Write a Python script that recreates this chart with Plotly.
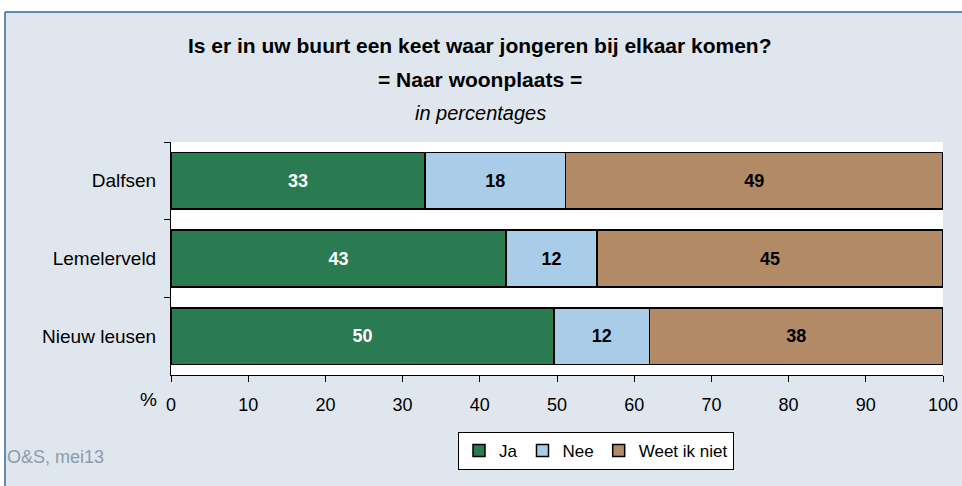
import plotly.graph_objects as go

# data (percentages per woonplaats)
PLACES = ["Dalfsen", "Lemelerveld", "Nieuw leusen"]
JA = [32.9, 43.4, 49.6]
NEE = [18.2, 11.8, 12.4]
WEET_NIET = [48.9, 44.8, 38.0]
X_TICKS = [0, 10, 20, 30, 40, 50, 60, 70, 80, 90, 100]

FONT = "Liberation Sans"
BG = "#dfe6ee"
FRAME = "#2f6a9c"
W, H = 962, 486
L, R, T, B = 171, 19, 142, 111


def px_x(p):
    return (p - L) / (W - L - R)


def px_y(p):
    return (H - B - p) / (H - T - B)


series = [
    ("Ja", JA, "#2a7b52", "white"),
    ("Nee", NEE, "#a9cde8", "black"),
    ("Weet ik niet", WEET_NIET, "#b38a66", "black"),
]

fig = go.Figure()
for name, vals, color, txtcolor in series:
    fig.add_trace(go.Bar(
        y=PLACES, x=vals, name=name, orientation="h",
        marker=dict(color=color, line=dict(color="black", width=1.5)),
        texttemplate="%{x:.0f}", textposition="inside", insidetextanchor="middle",
        textfont=dict(family=FONT, size=18, color=txtcolor, weight="bold"),
        hoverinfo="skip",
    ))

annotations = [
    dict(text="<b>Is er in uw buurt een keet waar jongeren bij elkaar komen?</b>",
         x=px_x(480), y=px_y(45), font=dict(size=21)),
    dict(text="<b>= Naar woonplaats =</b>", x=px_x(480), y=px_y(79), font=dict(size=21)),
    dict(text="<i>in percentages</i>", x=px_x(480), y=px_y(113), font=dict(size=20)),
    dict(text="%", x=px_x(148), y=px_y(399), font=dict(size=19)),
    dict(text="O&S, mei13", x=px_x(5), y=px_y(457), xanchor="left",
         font=dict(size=18, color="#8d9bab")),
]
for a in annotations:
    a.update(xref="paper", yref="paper", showarrow=False, yanchor="middle")
    a.setdefault("xanchor", "center")
    a["font"].setdefault("color", "black")
    a["font"]["family"] = FONT

shapes = [
    dict(type="rect", x0=px_x(-5), x1=px_x(W + 5), y0=px_y(12), y1=px_y(-5),
         fillcolor="white", line=dict(width=0)),
    dict(type="rect", x0=px_x(-5), x1=px_x(5), y0=px_y(H + 5), y1=px_y(-5),
         fillcolor="white", line=dict(width=0)),
    dict(type="line", x0=px_x(5), x1=px_x(W + 5), y0=px_y(12), y1=px_y(12),
         line=dict(color=FRAME, width=1.5)),
    dict(type="line", x0=px_x(5), x1=px_x(5), y0=px_y(12), y1=px_y(H + 5),
         line=dict(color=FRAME, width=1.5)),
]
for s in shapes:
    s.update(xref="paper", yref="paper", layer="above")

fig.update_layout(
    width=W, height=H,
    margin=dict(l=L, r=R, t=T, b=B, autoexpand=False),
    barmode="stack", bargap=0.27,
    paper_bgcolor=BG, plot_bgcolor="white",
    font=dict(family=FONT, size=18, color="black"),
    showlegend=True,
    legend=dict(orientation="h", x=px_x(596), y=px_y(432), xanchor="center", yanchor="top",
                bgcolor="white", bordercolor="black", borderwidth=1,
                font=dict(size=17), itemclick=False, traceorder="normal",
                itemwidth=30),
    annotations=annotations,
    shapes=shapes,
    uniformtext=dict(mode="show", minsize=10),
)
fig.update_xaxes(range=[0, 100], tickvals=X_TICKS, showgrid=False, zeroline=False,
                 showline=True, linecolor="black", linewidth=1,
                 ticks="outside", ticklen=6, tickcolor="black", automargin=False,
                 ticklabelstandoff=7, tickfont=dict(size=18), fixedrange=True)
fig.update_yaxes(autorange="reversed", showgrid=False, showline=True, linecolor="black",
                 linewidth=1, ticks="outside", ticklen=6, tickcolor="black", automargin=False,
                 tickson="boundaries", ticklabelstandoff=10, tickfont=dict(size=19),
                 fixedrange=True)

# page has a default 8px body margin; drop it so the figure sits at the window origin
fig.write_html("out.html", config=dict(displayModeBar=False),
               post_script="document.body.style.margin='0';")
